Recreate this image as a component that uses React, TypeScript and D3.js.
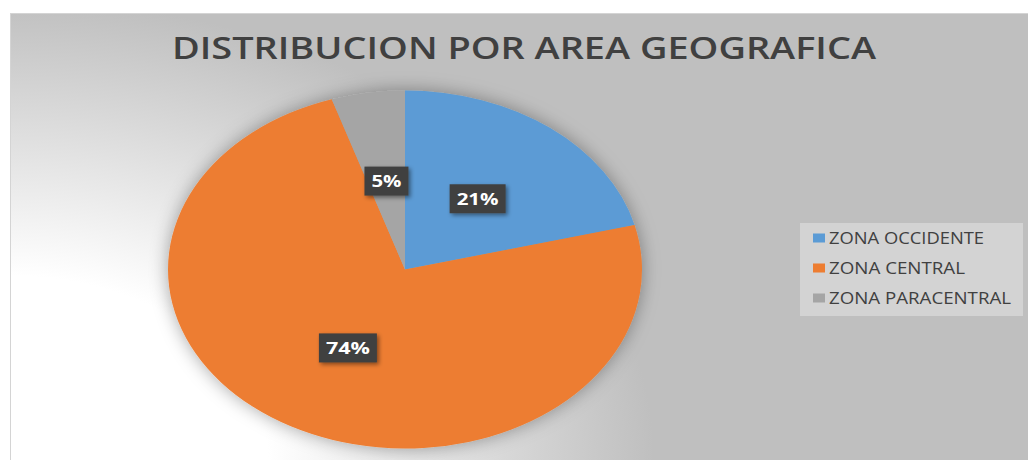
import React, {useRef, useEffect} from 'react'
import * as d3 from 'd3'

const categories = ['ZONA OCCIDENTE', 'ZONA CENTRAL', 'ZONA PARACENTRAL']
const values = [21, 74, 5]
const percentLabels = ['21%', '74%', '5%']
const colors = ['#5b9bd5', '#ed7d31', '#a5a5a5']
const title = 'DISTRIBUCION POR AREA GEOGRAFICA'

function App() {
  const ref: any = useRef<SVGSVGElement>(null)

  useEffect(() => {
    document.body.style.margin = '0'
    const width = 1028
    const height = 460
    const svg = d3.select(ref.current)
    svg.selectAll('*').remove()

    const defs = svg.append('defs')
    // whitish glow in the lower-left corner
    const glow = defs
      .append('radialGradient')
      .attr('id', 'bgGlow')
      .attr('gradientUnits', 'userSpaceOnUse')
      .attr('cx', 10)
      .attr('cy', 460)
      .attr('r', 460)
      .attr('gradientTransform', 'translate(10,460) scale(1.4,1) translate(-10,-460)')
    glow.append('stop').attr('offset', '0%').attr('stop-color', '#ffffff')
    glow.append('stop').attr('offset', '40%').attr('stop-color', '#ffffff')
    glow.append('stop').attr('offset', '100%').attr('stop-color', '#bfbfbf')

    const shadow = defs
      .append('filter')
      .attr('id', 'pieShadow')
      .attr('x', '-20%')
      .attr('y', '-20%')
      .attr('width', '140%')
      .attr('height', '140%')
    shadow
      .append('feDropShadow')
      .attr('dx', 0)
      .attr('dy', 0)
      .attr('stdDeviation', 9)
      .attr('flood-color', '#000')
      .attr('flood-opacity', 0.35)

    const boxShadow = defs
      .append('filter')
      .attr('id', 'boxShadow')
      .attr('x', '-30%')
      .attr('y', '-30%')
      .attr('width', '160%')
      .attr('height', '160%')
    boxShadow
      .append('feDropShadow')
      .attr('dx', 2)
      .attr('dy', 2)
      .attr('stdDeviation', 2)
      .attr('flood-color', '#000')
      .attr('flood-opacity', 0.45)

    // chart area
    svg.append('rect').attr('width', width).attr('height', height).attr('fill', '#fff')
    svg
      .append('rect')
      .attr('x', 10.5)
      .attr('y', 13.5)
      .attr('width', width)
      .attr('height', height)
      .attr('fill', 'url(#bgGlow)')
      .attr('stroke', '#d4d4d4')

    // title
    svg
      .append('text')
      .attr('x', 524)
      .attr('y', 59)
      .attr('text-anchor', 'middle')
      .attr('font-family', 'Open Sans')
      .attr('font-weight', 600)
      .attr('font-size', 31)
      .attr('fill', '#404040')
      .attr('textLength', 704)
      .attr('lengthAdjust', 'spacingAndGlyphs')
      .text(title)

    // pie (drawn as circle, stretched horizontally like the source)
    const cx = 405
    const cy = 269.5
    const ry = 179
    const sx = 237 / ry
    const pie = d3.pie<number>().sort(null)(values)
    const arc = d3.arc<any>().innerRadius(0).outerRadius(ry)

    const pieG = svg
      .append('g')
      .attr('filter', 'url(#pieShadow)')
      .append('g')
      .attr('transform', `translate(${cx},${cy}) scale(${sx},1)`)
    pieG
      .selectAll('path')
      .data(pie)
      .join('path')
      .attr('d', arc)
      .attr('fill', (d: any, i: number) => colors[i])

    // data labels
    const labelWidths = [42, 44, 30]
    const labels = svg
      .selectAll('.lbl')
      .data(pie)
      .join('g')
      .attr('class', 'lbl')
      .attr('transform', (d: any) => {
        const [x, y] = arc.centroid(d)
        return `translate(${cx + x * sx},${cy + y})`
      })
    labels
      .append('rect')
      .attr('x', (d: any, i: number) => -(labelWidths[i] + 14) / 2)
      .attr('y', -14.5)
      .attr('width', (d: any, i: number) => labelWidths[i] + 14)
      .attr('height', 29)
      .attr('fill', '#404040')
      .attr('filter', 'url(#boxShadow)')
    labels
      .append('text')
      .attr('text-anchor', 'middle')
      .attr('y', 6)
      .attr('font-family', 'Open Sans')
      .attr('font-weight', 700)
      .attr('font-size', 16)
      .attr('fill', '#fff')
      .attr('textLength', (d: any, i: number) => labelWidths[i])
      .attr('lengthAdjust', 'spacingAndGlyphs')
      .text((d: any, i: number) => percentLabels[i])

    // legend
    const legend = svg.append('g')
    legend
      .append('rect')
      .attr('x', 800)
      .attr('y', 223)
      .attr('width', 223)
      .attr('height', 93)
      .attr('fill', '#d3d3d3')
    const legendWidths = [155, 136, 182]
    const rows = legend
      .selectAll('.row')
      .data(categories)
      .join('g')
      .attr('class', 'row')
      .attr('transform', (d: string, i: number) => `translate(813,${238 + i * 30})`)
    rows
      .append('rect')
      .attr('x', 0)
      .attr('y', -4.5)
      .attr('width', 12)
      .attr('height', 9)
      .attr('fill', (d: string, i: number) => colors[i])
    rows
      .append('text')
      .attr('x', 16)
      .attr('y', 6)
      .attr('font-family', 'Open Sans')
      .attr('font-size', 16)
      .attr('fill', '#404040')
      .attr('textLength', (d: string, i: number) => legendWidths[i])
      .attr('lengthAdjust', 'spacingAndGlyphs')
      .text((d: string) => d)
  }, [])

  return <svg ref={ref} width={1028} height={460} style={{display: 'block'}} />
}

export default App
